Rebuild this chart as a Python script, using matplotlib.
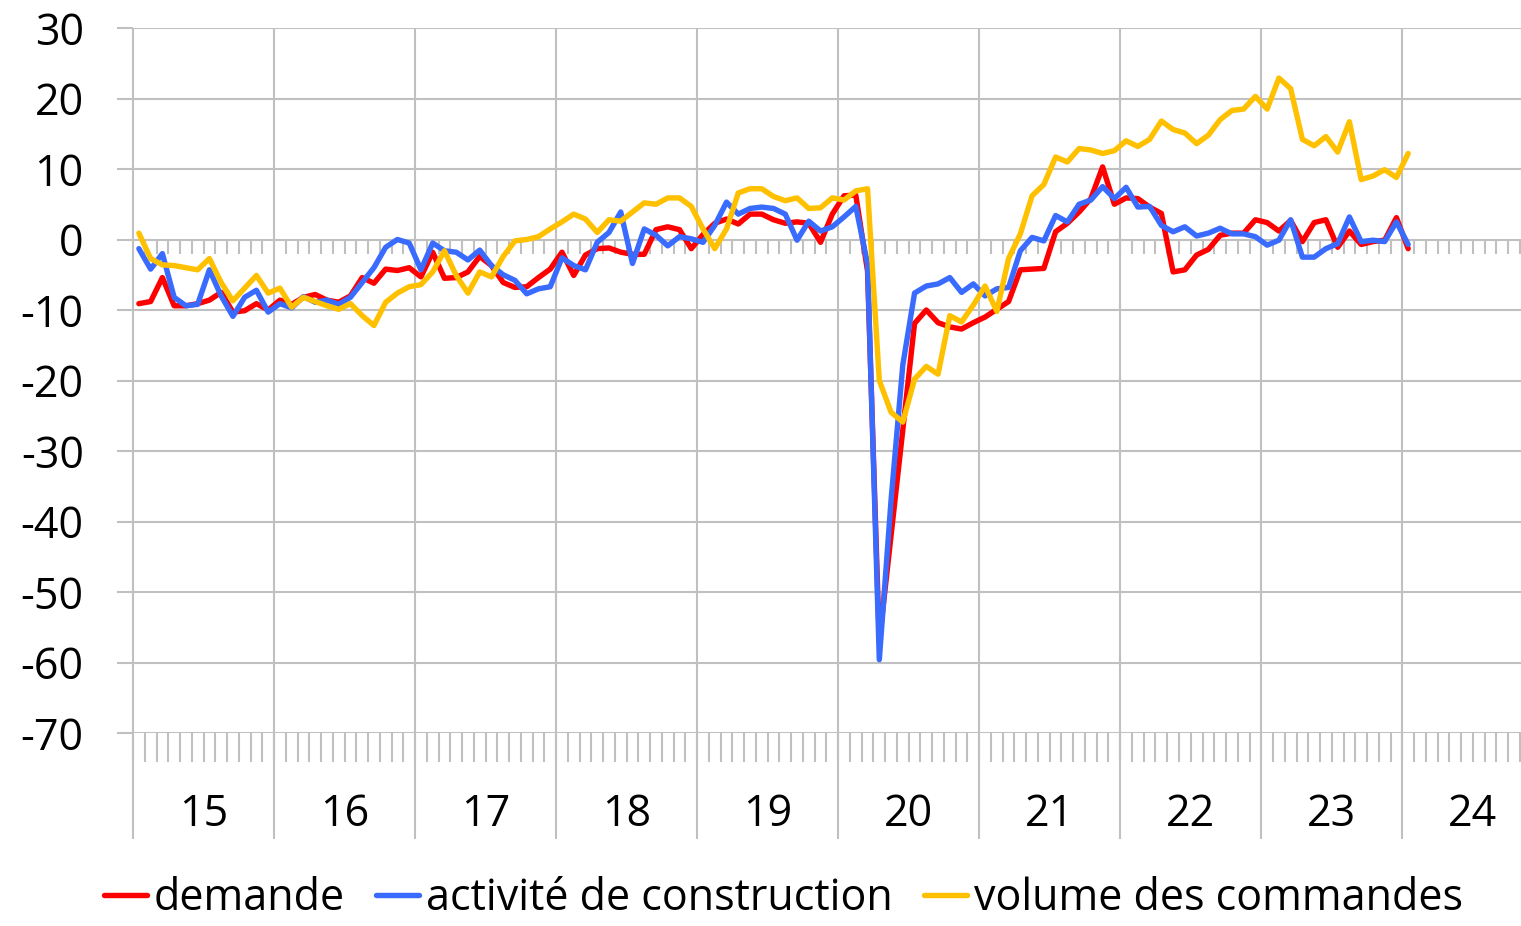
import numpy as np
import matplotlib.pyplot as plt

plt.rcParams['font.family'] = ['Open Sans', 'DejaVu Sans']
plt.rcParams['axes.unicode_minus'] = False

# monthly values, Jan 2015 .. Jan 2024
demande = [-9.1, -8.8, -5.4, -9.4, -9.4, -9.1, -8.6, -7.5, -10.3, -10.1, -9.1, -10.0,
           -8.6, -9.2, -8.2, -7.8, -8.6, -8.9, -8.0, -5.4, -6.2, -4.2, -4.4, -4.0,
           -5.3, -1.8, -5.5, -5.4, -4.6, -2.4, -3.7, -6.1, -6.8, -6.7, -5.4, -4.2,
           -1.8, -5.1, -2.2, -1.3, -1.2, -1.8, -2.1, -2.1, 1.4, 1.8, 1.4, -1.3,
           0.7, 2.3, 2.9, 2.2, 3.6, 3.6, 2.8, 2.3, 2.5, 2.3, -0.4, 3.6,
           6.2, 6.3, -4.5, -57.0, -42.0, -27.0, -11.9, -10.0, -11.8, -12.4, -12.7, -11.8,
           -11.0, -9.9, -8.8, -4.3, -4.2, -4.1, 1.1, 2.3, 3.9, 5.8, 10.3, 5.0,
           5.9, 5.8, 4.6, 3.7, -4.6, -4.3, -2.2, -1.4, 0.6, 0.9, 0.9, 2.8,
           2.4, 1.2, 2.7, -0.3, 2.4, 2.8, -1.1, 1.2, -0.7, -0.3, -0.1, 3.1,
           -1.3]
activite = [-1.3, -4.2, -2.0, -8.2, -9.4, -9.2, -4.3, -8.0, -10.9, -8.2, -7.2, -10.3,
            -9.1, -9.7, -8.1, -8.9, -8.6, -9.2, -8.2, -6.1, -4.0, -1.1, 0.0, -0.5,
            -4.3, -0.5, -1.6, -1.8, -2.9, -1.5, -3.7, -5.0, -5.8, -7.7, -7.0, -6.7,
            -2.6, -3.7, -4.3, -0.4, 1.0, 3.9, -3.4, 1.5, 0.6, -0.9, 0.4, 0.1,
            -0.4, 2.0, 5.3, 3.6, 4.4, 4.6, 4.4, 3.6, -0.1, 2.6, 1.2, 1.8,
            3.2, 4.7, -3.5, -59.6, -37.0, -17.8, -7.6, -6.6, -6.3, -5.4, -7.5, -6.3,
            -8.0, -7.0, -6.8, -1.6, 0.3, -0.2, 3.4, 2.5, 5.0, 5.6, 7.5, 5.8,
            7.4, 4.6, 4.7, 2.0, 1.1, 1.8, 0.5, 0.9, 1.6, 0.8, 0.8, 0.4,
            -0.8, -0.1, 2.8, -2.5, -2.5, -1.3, -0.6, 3.2, -0.3, -0.1, -0.3, 2.5,
            -0.7]
volume = [0.9, -2.7, -3.6, -3.7, -4.0, -4.3, -2.7, -6.1, -8.7, -6.9, -5.1, -7.6,
          -6.9, -9.6, -8.2, -8.8, -9.4, -9.9, -9.1, -10.8, -12.2, -8.9, -7.6, -6.7,
          -6.4, -4.6, -1.6, -5.1, -7.6, -4.6, -5.3, -2.4, -0.2, 0.0, 0.4, 1.5,
          2.5, 3.6, 2.9, 1.0, 2.8, 2.6, 3.9, 5.2, 5.0, 5.9, 5.9, 4.7,
          1.5, -1.3, 1.5, 6.6, 7.2, 7.2, 6.1, 5.5, 5.9, 4.4, 4.5, 5.9,
          5.6, 6.9, 7.2, -20.0, -24.5, -25.9, -19.8, -18.0, -19.1, -10.8, -11.7, -9.3,
          -6.6, -10.2, -2.7, 0.8, 6.2, 7.8, 11.7, 11.0, 12.9, 12.7, 12.2, 12.6,
          14.0, 13.2, 14.2, 16.8, 15.6, 15.1, 13.6, 14.8, 17.0, 18.3, 18.5, 20.3,
          18.5, 22.9, 21.4, 14.2, 13.3, 14.6, 12.4, 16.7, 8.5, 9.0, 9.9, 8.8,
          12.2]
years = ['15', '16', '17', '18', '19', '20', '21', '22', '23', '24']
series = [('demande', demande, '#ff0000'),
          ('activité de construction', activite, '#3a6bff'),
          ('volume des commandes', volume, '#ffc000')]

grid_col = '#c0c0c0'
fs = 31

fig = plt.figure(figsize=(15.21, 9.26), dpi=100)
ax = fig.add_axes([133 / 1521, 1 - 733 / 926, 1 - 133 / 1521, 705 / 926])

n_months = 118
ax.set_xlim(0, n_months + 0.1)
ax.set_ylim(-70, 30)

# horizontal grid + y labels
ax.set_yticks(np.arange(-70, 31, 10))
ax.yaxis.grid(True, color=grid_col, linewidth=1.5)
ax.tick_params(axis='y', length=11.5, width=1.5, color=grid_col, pad=24, labelsize=fs)
ax.set_xticks([])
for s in ax.spines.values():
    s.set_visible(False)
ax.set_axisbelow(True)

# year separators, running down through the label band
year_starts = np.arange(len(years)) * 12
ax.vlines(year_starts, -85, 30, colors=grid_col, linewidth=1.5, clip_on=False, zorder=1)
# month ticks on the zero line and at the bottom
month_edges = np.arange(0, n_months + 1)
ax.vlines(month_edges, -2.1, 0, colors=grid_col, linewidth=1.5, zorder=1)
ax.vlines(month_edges, -74.1, -70, colors=grid_col, linewidth=1.5, clip_on=False, zorder=1)

for i, y in enumerate(years):
    ax.text(year_starts[i] + 6, -83.2, y, ha='center', va='baseline', fontsize=fs)

x = np.arange(len(demande)) + 0.5
for name, vals, col in series:
    ax.plot(x, vals, color=col, linewidth=3.9, label=name, zorder=3,
            solid_joinstyle='round', solid_capstyle='round')

fig.legend(loc='center', bbox_to_anchor=(0.515, 1 - 899 / 926), ncol=3, frameon=False,
           fontsize=fs, handlelength=1.0, handletextpad=0.16, columnspacing=0.72,
           borderaxespad=0)

fig.savefig('out.png', dpi=100)
